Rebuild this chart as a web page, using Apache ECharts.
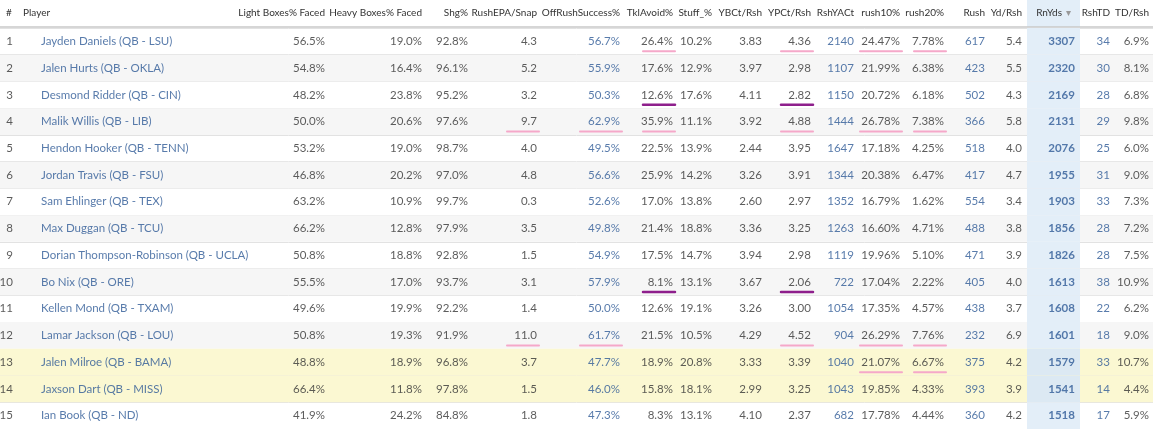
<!DOCTYPE html>
<html><head><meta charset="utf-8">
<script src="https://cdn.jsdelivr.net/npm/echarts@6/dist/echarts.min.js"></script>
<style>html,body{margin:0;background:#fff}#c{width:1153px;height:429px}</style>
</head><body><div id="c"></div>
<script>
// === table data ===
const players = ['Jayden Daniels (QB - LSU)','Jalen Hurts (QB - OKLA)','Desmond Ridder (QB - CIN)','Malik Willis (QB - LIB)','Hendon Hooker (QB - TENN)','Jordan Travis (QB - FSU)','Sam Ehlinger (QB - TEX)','Max Duggan (QB - TCU)','Dorian Thompson-Robinson (QB - UCLA)','Bo Nix (QB - ORE)','Kellen Mond (QB - TXAM)','Lamar Jackson (QB - LOU)','Jalen Milroe (QB - BAMA)','Jaxson Dart (QB - MISS)','Ian Book (QB - ND)'];
const lightBox = ['56.5%','54.8%','48.2%','50.0%','53.2%','46.8%','63.2%','66.2%','50.8%','55.5%','49.6%','50.8%','48.8%','66.4%','41.9%'];
const heavyBox = ['19.0%','16.4%','23.8%','20.6%','19.0%','20.2%','10.9%','12.8%','18.8%','17.0%','19.9%','19.3%','18.9%','11.8%','24.2%'];
const shg = ['92.8%','96.1%','95.2%','97.6%','98.7%','97.0%','99.7%','97.9%','92.8%','93.7%','92.2%','91.9%','96.8%','97.8%','84.8%'];
const rushEpa = ['4.3','5.2','3.2','9.7','4.0','4.8','0.3','3.5','1.5','3.1','1.4','11.0','3.7','1.5','1.8'];
const offRushSucc = ['56.7%','55.9%','50.3%','62.9%','49.5%','56.6%','52.6%','49.8%','54.9%','57.9%','50.0%','61.7%','47.7%','46.0%','47.3%'];
const tklAvoid = ['26.4%','17.6%','12.6%','35.9%','22.5%','25.9%','17.0%','21.4%','17.5%','8.1%','12.6%','21.5%','18.9%','15.8%','8.3%'];
const stuff = ['10.2%','12.9%','17.6%','11.1%','13.9%','14.2%','13.8%','18.8%','14.7%','13.1%','19.1%','10.5%','20.8%','18.1%','13.1%'];
const ybct = ['3.83','3.97','4.11','3.92','2.44','3.26','2.60','3.36','3.94','3.67','3.26','4.29','3.33','2.99','4.10'];
const ypct = ['4.36','2.98','2.82','4.88','3.95','3.91','2.97','3.25','2.98','2.06','3.00','4.52','3.39','3.25','2.37'];
const rshYact = ['2140','1107','1150','1444','1647','1344','1352','1263','1119','722','1054','904','1040','1043','682'];
const rush10 = ['24.47%','21.99%','20.72%','26.78%','17.18%','20.38%','16.79%','16.60%','19.96%','17.04%','17.35%','26.29%','21.07%','19.85%','17.78%'];
const rush20 = ['7.78%','6.38%','6.18%','7.38%','4.25%','6.47%','1.62%','4.71%','5.10%','2.22%','4.57%','7.76%','6.67%','4.33%','4.44%'];
const rushAtt = ['617','423','502','366','518','417','554','488','471','405','438','232','375','393','360'];
const ydRsh = ['5.4','5.5','4.3','5.8','4.0','4.7','3.4','3.8','3.9','4.0','3.7','6.9','4.2','3.9','4.2'];
const rnYds = ['3307','2320','2169','2131','2076','1955','1903','1856','1826','1613','1608','1601','1579','1541','1518'];
const rshTd = ['34','30','28','29','25','31','33','28','28','38','22','18','33','14','17'];
const tdRsh = ['6.9%','8.1%','6.8%','9.8%','6.0%','9.0%','7.3%','7.2%','7.5%','10.9%','6.2%','9.0%','10.7%','4.4%','5.9%'];
// underline marks: [row, column key, 'pink' | 'purple']
const marks = [
  [0,'tkl','pink'],[0,'ypct','pink'],[0,'r10','pink'],[0,'r20','pink'],
  [2,'tkl','purple'],[2,'ypct','purple'],
  [3,'epa','pink'],[3,'off','pink'],[3,'tkl','pink'],[3,'ypct','pink'],[3,'r10','pink'],[3,'r20','pink'],
  [9,'tkl','purple'],[9,'ypct','purple'],
  [11,'epa','pink'],[11,'off','pink'],[11,'ypct','pink'],[11,'r10','pink'],[11,'r20','pink'],
  [12,'r10','pink'],[12,'r20','pink']
];
const highlightRows = [12, 13];

const BLUE = '#2e5a96', TXT = '#333';
const rowIdx = players.map((_, i) => i);
// column layout: key, header, values, right edge x, colour, bold
const cols = [
  { key:'light', head:'Light Boxes% Faced', v:lightBox, x:325 },
  { key:'heavy', head:'Heavy Boxes% Faced', v:heavyBox, x:422 },
  { key:'shg', head:'Shg%', v:shg, x:468 },
  { key:'epa', head:'RushEPA/Snap', v:rushEpa, x:537 },
  { key:'off', head:'OffRushSuccess%', v:offRushSucc, x:620, c:BLUE },
  { key:'tkl', head:'TklAvoid%', v:tklAvoid, x:673 },
  { key:'stuff', head:'Stuff_%', v:stuff, x:712 },
  { key:'ybct', head:'YBCt/Rsh', v:ybct, x:762 },
  { key:'ypct', head:'YPCt/Rsh', v:ypct, x:811 },
  { key:'yact', head:'RshYACt', v:rshYact, x:854, c:BLUE },
  { key:'r10', head:'rush10%', v:rush10, x:900 },
  { key:'r20', head:'rush20%', v:rush20, x:944 },
  { key:'rush', head:'Rush', v:rushAtt, x:985, c:BLUE },
  { key:'ydr', head:'Yd/Rsh', v:ydRsh, x:1022 },
  { key:'rnyds', head:'RnYds', v:rnYds, x:1075, c:BLUE, bold:true },
  { key:'td', head:'RshTD', v:rshTd, x:1110, c:BLUE },
  { key:'tdr', head:'TD/Rsh', v:tdRsh, x:1149 }
];
const colX = {}; cols.forEach(c => colX[c.key] = c.x);

const FONT = 'Lato, "Open Sans", sans-serif';
const series = [];

// row backgrounds
series.push({
  type:'custom', silent:true, z:0,
  data: rowIdx.map(i => [i]),
  renderItem: function (p, api) {
    const i = api.value(0);
    const y = api.coord([0, i])[1], h = api.size([0, 1])[1];
    const kids = [];
    let fill = null;
    if (highlightRows.indexOf(i) >= 0) fill = '#fbf8d2';
    else if (i % 2 === 1) fill = '#f6f6f6';
    if (fill) kids.push({ type:'rect', shape:{ x:0, y:y - h/2, width:1153, height:h }, style:{ fill:fill } });
    const l = api.coord([1027, i])[0], r = api.coord([1080, i])[0];
    kids.push({ type:'rect', shape:{ x:l, y:y - h/2, width:r - l, height:h }, style:{ fill: fill === '#fbf8d2' ? '#dce9f3' : '#e3eef8' } });
    return { type:'group', children:kids };
  }
});

// underline marks
series.push({
  type:'custom', silent:true, z:3,
  data: marks.map(m => [colX[m[1]], m[0], m[2]]),
  renderItem: function (p, api) {
    const pt = api.coord([api.value(0), api.value(1)]);
    const purple = marks[p.dataIndex][2] === 'purple';
    const w = marks[p.dataIndex][1] === 'r10' || marks[p.dataIndex][1] === 'off' ? 40 : 30;
    return { type:'line', shape:{ x1:pt[0] - w, y1:pt[1] + 10, x2:pt[0] + 2, y2:pt[1] + 10 },
      style:{ stroke: purple ? '#8e1f8c' : '#f5a8c9', lineWidth: purple ? 2.5 : 2, lineCap:'round' } };
  }
});

function textSeries(data, pos, color, weight) {
  return { type:'scatter', symbolSize:0.1, silent:true, z:4, data:data,
    label:{ show:true, position:pos, distance:0, formatter: p => p.data[2],
      color:color, fontSize:11.5, fontFamily:FONT, fontWeight:weight || 'normal' } };
}
series.push(textSeries(rowIdx.map(i => [13, i, String(i + 1)]), 'left', TXT));
series.push(textSeries(rowIdx.map(i => [41, i, players[i]]), 'right', BLUE));
cols.forEach(c => series.push(textSeries(rowIdx.map(i => [c.x, i, c.v[i]]), 'left', c.c || TXT, c.bold ? 'bold' : 'normal')));

const HFONT = '10px ' + FONT;
const headerText = [
  { type:'text', left:6, top:8, style:{ text:'#', fill:TXT, font:HFONT } },
  { type:'text', left:23, top:8, style:{ text:'Player', fill:TXT, font:HFONT } }
];
cols.forEach(c => headerText.push({ type:'text', x: c.key === 'rnyds' ? c.x - 13 : c.x, y:8,
  style:{ text:c.head, fill:TXT, font:HFONT, align:'right' } }));
headerText.push({ type:'text', x:1066, y:8, style:{ text:'▾', fill:'#999', font:'10px ' + FONT } });
headerText.push({ type:'rect', shape:{ x:1027, y:0, width:53, height:27 }, style:{ fill:'#e3eef8' }, z:-1 });
headerText.push({ type:'line', shape:{ x1:0, y1:27, x2:1153, y2:27 }, style:{ stroke:'#c8c8c8', lineWidth:1.5 } });

const chart = echarts.init(document.getElementById('c'));
chart.setOption({
  animation:false,
  grid:{ left:0, right:0, top:28, bottom:0 },
  xAxis:{ type:'value', min:0, max:1153, show:false },
  yAxis:{ type:'category', data:rowIdx, inverse:true, boundaryGap:true,
    axisLine:{ show:false }, axisTick:{ show:false }, axisLabel:{ show:false },
    splitLine:{ show:true, lineStyle:{ color:'#e2e2e2' } } },
  graphic: headerText,
  series: series
});
</script></body></html>
